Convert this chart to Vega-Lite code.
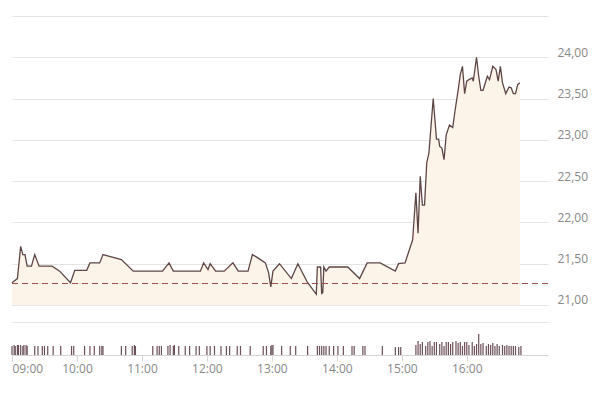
{
  "$schema": "https://vega.github.io/schema/vega-lite/v6.json",
  "width": 536,
  "height": 339,
  "autosize": {"type": "none"},
  "padding": {"left": 12, "top": 16, "right": 52, "bottom": 42},
  "background": "white",
  "config": {"view": {"stroke": null}, "font": "Open Sans"},
  "datasets": {
    "price": [
      {"t": "2024-01-02T09:00", "price": 21.27},
      {"t": "2024-01-02T09:05", "price": 21.32},
      {"t": "2024-01-02T09:08", "price": 21.71},
      {"t": "2024-01-02T09:10", "price": 21.61},
      {"t": "2024-01-02T09:12", "price": 21.61},
      {"t": "2024-01-02T09:14", "price": 21.47},
      {"t": "2024-01-02T09:18", "price": 21.47},
      {"t": "2024-01-02T09:21", "price": 21.61},
      {"t": "2024-01-02T09:25", "price": 21.47},
      {"t": "2024-01-02T09:37", "price": 21.47},
      {"t": "2024-01-02T09:44", "price": 21.41},
      {"t": "2024-01-02T09:54", "price": 21.27},
      {"t": "2024-01-02T09:58", "price": 21.42},
      {"t": "2024-01-02T10:09", "price": 21.42},
      {"t": "2024-01-02T10:12", "price": 21.51},
      {"t": "2024-01-02T10:21", "price": 21.51},
      {"t": "2024-01-02T10:24", "price": 21.61},
      {"t": "2024-01-02T10:41", "price": 21.55},
      {"t": "2024-01-02T10:52", "price": 21.41},
      {"t": "2024-01-02T11:19", "price": 21.41},
      {"t": "2024-01-02T11:25", "price": 21.51},
      {"t": "2024-01-02T11:29", "price": 21.41},
      {"t": "2024-01-02T11:54", "price": 21.41},
      {"t": "2024-01-02T11:57", "price": 21.51},
      {"t": "2024-01-02T12:01", "price": 21.43},
      {"t": "2024-01-02T12:03", "price": 21.5},
      {"t": "2024-01-02T12:08", "price": 21.41},
      {"t": "2024-01-02T12:16", "price": 21.41},
      {"t": "2024-01-02T12:24", "price": 21.51},
      {"t": "2024-01-02T12:29", "price": 21.41},
      {"t": "2024-01-02T12:38", "price": 21.41},
      {"t": "2024-01-02T12:42", "price": 21.61},
      {"t": "2024-01-02T12:47", "price": 21.57},
      {"t": "2024-01-02T12:54", "price": 21.51},
      {"t": "2024-01-02T12:57", "price": 21.39},
      {"t": "2024-01-02T12:59", "price": 21.22},
      {"t": "2024-01-02T13:01", "price": 21.41},
      {"t": "2024-01-02T13:07", "price": 21.5},
      {"t": "2024-01-02T13:18", "price": 21.32},
      {"t": "2024-01-02T13:24", "price": 21.5},
      {"t": "2024-01-02T13:33", "price": 21.27},
      {"t": "2024-01-02T13:41", "price": 21.13},
      {"t": "2024-01-02T13:42", "price": 21.46},
      {"t": "2024-01-02T13:45", "price": 21.46},
      {"t": "2024-01-02T13:46", "price": 21.14},
      {"t": "2024-01-02T13:47", "price": 21.15},
      {"t": "2024-01-02T13:48", "price": 21.46},
      {"t": "2024-01-02T13:50", "price": 21.41},
      {"t": "2024-01-02T13:53", "price": 21.46},
      {"t": "2024-01-02T14:10", "price": 21.46},
      {"t": "2024-01-02T14:21", "price": 21.32},
      {"t": "2024-01-02T14:28", "price": 21.51},
      {"t": "2024-01-02T14:40", "price": 21.51},
      {"t": "2024-01-02T14:54", "price": 21.41},
      {"t": "2024-01-02T14:57", "price": 21.5},
      {"t": "2024-01-02T15:03", "price": 21.51},
      {"t": "2024-01-02T15:10", "price": 21.79},
      {"t": "2024-01-02T15:13", "price": 22.36},
      {"t": "2024-01-02T15:15", "price": 21.87},
      {"t": "2024-01-02T15:17", "price": 22.56},
      {"t": "2024-01-02T15:19", "price": 22.21},
      {"t": "2024-01-02T15:21", "price": 22.21},
      {"t": "2024-01-02T15:23", "price": 22.72},
      {"t": "2024-01-02T15:25", "price": 22.84},
      {"t": "2024-01-02T15:29", "price": 23.5},
      {"t": "2024-01-02T15:32", "price": 23.01},
      {"t": "2024-01-02T15:34", "price": 23.01},
      {"t": "2024-01-02T15:35", "price": 22.92},
      {"t": "2024-01-02T15:37", "price": 22.9},
      {"t": "2024-01-02T15:39", "price": 22.76},
      {"t": "2024-01-02T15:41", "price": 23.06},
      {"t": "2024-01-02T15:44", "price": 23.18},
      {"t": "2024-01-02T15:47", "price": 23.15},
      {"t": "2024-01-02T15:49", "price": 23.34},
      {"t": "2024-01-02T15:52", "price": 23.6},
      {"t": "2024-01-02T15:54", "price": 23.79},
      {"t": "2024-01-02T15:56", "price": 23.89},
      {"t": "2024-01-02T15:58", "price": 23.56},
      {"t": "2024-01-02T16:00", "price": 23.71},
      {"t": "2024-01-02T16:02", "price": 23.73},
      {"t": "2024-01-02T16:05", "price": 23.75},
      {"t": "2024-01-02T16:06", "price": 23.71},
      {"t": "2024-01-02T16:09", "price": 24.0},
      {"t": "2024-01-02T16:11", "price": 23.77},
      {"t": "2024-01-02T16:13", "price": 23.6},
      {"t": "2024-01-02T16:15", "price": 23.6},
      {"t": "2024-01-02T16:19", "price": 23.77},
      {"t": "2024-01-02T16:21", "price": 23.73},
      {"t": "2024-01-02T16:24", "price": 23.89},
      {"t": "2024-01-02T16:27", "price": 23.85},
      {"t": "2024-01-02T16:29", "price": 23.71},
      {"t": "2024-01-02T16:31", "price": 23.89},
      {"t": "2024-01-02T16:33", "price": 23.69},
      {"t": "2024-01-02T16:36", "price": 23.56},
      {"t": "2024-01-02T16:39", "price": 23.64},
      {"t": "2024-01-02T16:41", "price": 23.63},
      {"t": "2024-01-02T16:43", "price": 23.56},
      {"t": "2024-01-02T16:45", "price": 23.56},
      {"t": "2024-01-02T16:47", "price": 23.67},
      {"t": "2024-01-02T16:49", "price": 23.69}
    ],
    "volume": [
      {"t": "2024-01-02T09:00", "vol": 9}, {"t": "2024-01-02T09:02", "vol": 10}, {"t": "2024-01-02T09:03", "vol": 9},
      {"t": "2024-01-02T09:05", "vol": 10}, {"t": "2024-01-02T09:06", "vol": 10}, {"t": "2024-01-02T09:08", "vol": 10},
      {"t": "2024-01-02T09:10", "vol": 9}, {"t": "2024-01-02T09:11", "vol": 10}, {"t": "2024-01-02T09:13", "vol": 10},
      {"t": "2024-01-02T09:14", "vol": 9}, {"t": "2024-01-02T09:21", "vol": 9}, {"t": "2024-01-02T09:24", "vol": 9},
      {"t": "2024-01-02T09:28", "vol": 9}, {"t": "2024-01-02T09:30", "vol": 9}, {"t": "2024-01-02T09:33", "vol": 9},
      {"t": "2024-01-02T09:38", "vol": 9}, {"t": "2024-01-02T09:45", "vol": 9}, {"t": "2024-01-02T09:55", "vol": 9},
      {"t": "2024-01-02T09:57", "vol": 9}, {"t": "2024-01-02T10:07", "vol": 9}, {"t": "2024-01-02T10:12", "vol": 9},
      {"t": "2024-01-02T10:16", "vol": 9}, {"t": "2024-01-02T10:21", "vol": 9}, {"t": "2024-01-02T10:23", "vol": 9},
      {"t": "2024-01-02T10:24", "vol": 9}, {"t": "2024-01-02T10:41", "vol": 9}, {"t": "2024-01-02T10:45", "vol": 9},
      {"t": "2024-01-02T10:51", "vol": 9}, {"t": "2024-01-02T10:53", "vol": 10}, {"t": "2024-01-02T10:54", "vol": 9},
      {"t": "2024-01-02T11:10", "vol": 9}, {"t": "2024-01-02T11:14", "vol": 9}, {"t": "2024-01-02T11:16", "vol": 9},
      {"t": "2024-01-02T11:18", "vol": 9}, {"t": "2024-01-02T11:24", "vol": 9}, {"t": "2024-01-02T11:26", "vol": 10},
      {"t": "2024-01-02T11:29", "vol": 9}, {"t": "2024-01-02T11:30", "vol": 10}, {"t": "2024-01-02T11:34", "vol": 9},
      {"t": "2024-01-02T11:40", "vol": 9}, {"t": "2024-01-02T11:44", "vol": 9}, {"t": "2024-01-02T11:50", "vol": 9},
      {"t": "2024-01-02T11:53", "vol": 9}, {"t": "2024-01-02T12:00", "vol": 9}, {"t": "2024-01-02T12:03", "vol": 9},
      {"t": "2024-01-02T12:07", "vol": 9}, {"t": "2024-01-02T12:13", "vol": 9}, {"t": "2024-01-02T12:18", "vol": 9},
      {"t": "2024-01-02T12:21", "vol": 9}, {"t": "2024-01-02T12:28", "vol": 9}, {"t": "2024-01-02T12:31", "vol": 9},
      {"t": "2024-01-02T12:40", "vol": 9}, {"t": "2024-01-02T12:52", "vol": 9}, {"t": "2024-01-02T12:55", "vol": 9},
      {"t": "2024-01-02T12:59", "vol": 9}, {"t": "2024-01-02T13:00", "vol": 10}, {"t": "2024-01-02T13:01", "vol": 10},
      {"t": "2024-01-02T13:09", "vol": 9}, {"t": "2024-01-02T13:17", "vol": 9}, {"t": "2024-01-02T13:22", "vol": 9},
      {"t": "2024-01-02T13:33", "vol": 9}, {"t": "2024-01-02T13:42", "vol": 9}, {"t": "2024-01-02T13:44", "vol": 9},
      {"t": "2024-01-02T13:46", "vol": 9}, {"t": "2024-01-02T13:48", "vol": 9}, {"t": "2024-01-02T13:50", "vol": 9},
      {"t": "2024-01-02T13:53", "vol": 9}, {"t": "2024-01-02T13:57", "vol": 9}, {"t": "2024-01-02T14:01", "vol": 9},
      {"t": "2024-01-02T14:06", "vol": 9}, {"t": "2024-01-02T14:14", "vol": 9}, {"t": "2024-01-02T14:16", "vol": 9},
      {"t": "2024-01-02T14:24", "vol": 9}, {"t": "2024-01-02T14:26", "vol": 9}, {"t": "2024-01-02T14:42", "vol": 9},
      {"t": "2024-01-02T14:54", "vol": 8}, {"t": "2024-01-02T14:57", "vol": 8}, {"t": "2024-01-02T14:59", "vol": 8},
      {"t": "2024-01-02T15:13", "vol": 10}, {"t": "2024-01-02T15:15", "vol": 14}, {"t": "2024-01-02T15:17", "vol": 11},
      {"t": "2024-01-02T15:19", "vol": 13}, {"t": "2024-01-02T15:22", "vol": 9}, {"t": "2024-01-02T15:24", "vol": 13},
      {"t": "2024-01-02T15:26", "vol": 14}, {"t": "2024-01-02T15:28", "vol": 9}, {"t": "2024-01-02T15:30", "vol": 13},
      {"t": "2024-01-02T15:32", "vol": 13}, {"t": "2024-01-02T15:35", "vol": 11}, {"t": "2024-01-02T15:37", "vol": 13},
      {"t": "2024-01-02T15:39", "vol": 9}, {"t": "2024-01-02T15:41", "vol": 13}, {"t": "2024-01-02T15:43", "vol": 13},
      {"t": "2024-01-02T15:45", "vol": 11}, {"t": "2024-01-02T15:47", "vol": 13}, {"t": "2024-01-02T15:50", "vol": 14},
      {"t": "2024-01-02T15:52", "vol": 12}, {"t": "2024-01-02T15:54", "vol": 13}, {"t": "2024-01-02T15:56", "vol": 9},
      {"t": "2024-01-02T15:58", "vol": 13}, {"t": "2024-01-02T16:00", "vol": 13}, {"t": "2024-01-02T16:02", "vol": 10},
      {"t": "2024-01-02T16:05", "vol": 13}, {"t": "2024-01-02T16:07", "vol": 9}, {"t": "2024-01-02T16:09", "vol": 11},
      {"t": "2024-01-02T16:11", "vol": 21}, {"t": "2024-01-02T16:13", "vol": 11}, {"t": "2024-01-02T16:15", "vol": 12},
      {"t": "2024-01-02T16:18", "vol": 9}, {"t": "2024-01-02T16:20", "vol": 11}, {"t": "2024-01-02T16:22", "vol": 10},
      {"t": "2024-01-02T16:24", "vol": 12}, {"t": "2024-01-02T16:26", "vol": 9}, {"t": "2024-01-02T16:28", "vol": 11},
      {"t": "2024-01-02T16:30", "vol": 9}, {"t": "2024-01-02T16:33", "vol": 10}, {"t": "2024-01-02T16:35", "vol": 9},
      {"t": "2024-01-02T16:37", "vol": 10}, {"t": "2024-01-02T16:39", "vol": 9}, {"t": "2024-01-02T16:41", "vol": 9},
      {"t": "2024-01-02T16:43", "vol": 9}, {"t": "2024-01-02T16:45", "vol": 9}, {"t": "2024-01-02T16:48", "vol": 8},
      {"t": "2024-01-02T16:50", "vol": 9}
    ]
  },
  "layer": [
    {
      "data": {"name": "price"},
      "mark": {"type": "area", "color": "#fcf3e9", "opacity": 1},
      "encoding": {
        "x": {"field": "t", "type": "temporal",
          "scale": {"domain": [{"year": 2024, "month": 1, "date": 2, "hours": 9, "minutes": 0}, {"year": 2024, "month": 1, "date": 2, "hours": 17, "minutes": 15}]},
          "axis": {"format": "%H:%M", "title": null, "grid": false, "labelFlush": true,
            "values": [{"year": 2024, "month": 1, "date": 2, "hours": 9}, {"year": 2024, "month": 1, "date": 2, "hours": 10}, {"year": 2024, "month": 1, "date": 2, "hours": 11}, {"year": 2024, "month": 1, "date": 2, "hours": 12}, {"year": 2024, "month": 1, "date": 2, "hours": 13}, {"year": 2024, "month": 1, "date": 2, "hours": 14}, {"year": 2024, "month": 1, "date": 2, "hours": 15}, {"year": 2024, "month": 1, "date": 2, "hours": 16}],
            "domainColor": "#d4d4d4", "tickColor": "#d4d4d4", "tickSize": 6, "labelPadding": 2, "labelColor": "#888888", "labelFontSize": 12, "labelFont": "Open Sans"}},
        "y": {"field": "price", "type": "quantitative",
          "scale": {"domain": [20.8, 24.5], "range": [305.5, 0], "zero": false, "nice": false},
          "axis": {"orient": "right", "title": null, "values": [20.8, 21, 21.5, 22, 22.5, 23, 23.5, 24, 24.5],
            "labelExpr": "datum.value < 20.9 || datum.value > 24.4 ? '' : replace(format(datum.value, '.2f'), '.', ',')",
            "grid": true, "gridColor": "#e4e4e4", "gridWidth": 1, "domain": false, "ticks": false, "tickSize": 0,
            "labelPadding": 9, "labelBaseline": "alphabetic", "labelOffset": -1, "labelColor": "#888888", "labelFontSize": 12, "labelFont": "Open Sans"}},
        "y2": {"datum": 21}
      }
    },
    {
      "data": {"name": "price"},
      "mark": {"type": "line", "color": "#5f4646", "strokeWidth": 1.3},
      "encoding": {
        "x": {"field": "t", "type": "temporal",
          "scale": {"domain": [{"year": 2024, "month": 1, "date": 2, "hours": 9, "minutes": 0}, {"year": 2024, "month": 1, "date": 2, "hours": 17, "minutes": 15}]},
          "axis": {"format": "%H:%M", "title": null, "grid": false, "labelFlush": true,
            "values": [{"year": 2024, "month": 1, "date": 2, "hours": 9}, {"year": 2024, "month": 1, "date": 2, "hours": 10}, {"year": 2024, "month": 1, "date": 2, "hours": 11}, {"year": 2024, "month": 1, "date": 2, "hours": 12}, {"year": 2024, "month": 1, "date": 2, "hours": 13}, {"year": 2024, "month": 1, "date": 2, "hours": 14}, {"year": 2024, "month": 1, "date": 2, "hours": 15}, {"year": 2024, "month": 1, "date": 2, "hours": 16}],
            "domainColor": "#d4d4d4", "tickColor": "#d4d4d4", "tickSize": 6, "labelPadding": 2, "labelColor": "#888888", "labelFontSize": 12, "labelFont": "Open Sans"}},
        "y": {"field": "price", "type": "quantitative",
          "scale": {"domain": [20.8, 24.5], "range": [305.5, 0], "zero": false, "nice": false}, "axis": null}
      }
    },
    {
      "data": {"values": [{"prevClose": 21.26}]},
      "mark": {"type": "rule", "color": "#9e4f4f", "strokeWidth": 1.2, "strokeDash": [6, 4]},
      "encoding": {
        "y": {"field": "prevClose", "type": "quantitative",
          "scale": {"domain": [20.8, 24.5], "range": [305.5, 0], "zero": false, "nice": false}, "axis": null}
      }
    },
    {
      "data": {"name": "volume"},
      "mark": {"type": "rule", "color": "#6b4f57", "strokeWidth": 1.2},
      "encoding": {
        "x": {"field": "t", "type": "temporal",
          "scale": {"domain": [{"year": 2024, "month": 1, "date": 2, "hours": 9, "minutes": 0}, {"year": 2024, "month": 1, "date": 2, "hours": 17, "minutes": 15}]},
          "axis": {"format": "%H:%M", "title": null, "grid": false, "labelFlush": true,
            "values": [{"year": 2024, "month": 1, "date": 2, "hours": 9}, {"year": 2024, "month": 1, "date": 2, "hours": 10}, {"year": 2024, "month": 1, "date": 2, "hours": 11}, {"year": 2024, "month": 1, "date": 2, "hours": 12}, {"year": 2024, "month": 1, "date": 2, "hours": 13}, {"year": 2024, "month": 1, "date": 2, "hours": 14}, {"year": 2024, "month": 1, "date": 2, "hours": 15}, {"year": 2024, "month": 1, "date": 2, "hours": 16}],
            "domainColor": "#d4d4d4", "tickColor": "#d4d4d4", "tickSize": 6, "labelPadding": 2, "labelColor": "#888888", "labelFontSize": 12, "labelFont": "Open Sans"}},
        "y": {"field": "vol", "type": "quantitative", "scale": {"domain": [0, 339], "nice": false}, "axis": null},
        "y2": {"datum": 0}
      }
    }
  ],
  "resolve": {"scale": {"y": "independent"}, "axis": {"y": "independent"}}
}
